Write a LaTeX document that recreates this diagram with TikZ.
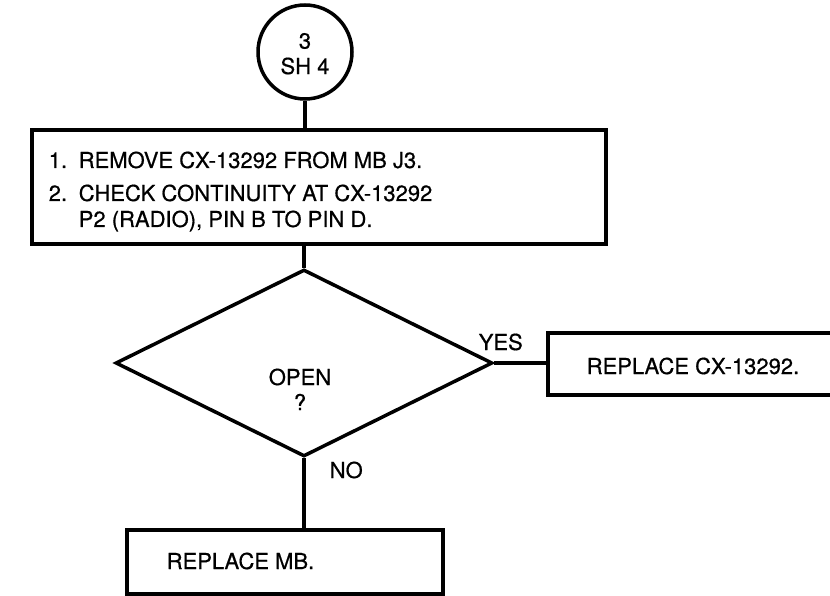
\documentclass[tikz,border=0pt]{standalone}
\usepackage{fontspec}
\setmainfont{TeX Gyre Heros}[FakeBold=0.6]
\usetikzlibrary{shapes.geometric}
\begin{document}
\begin{tikzpicture}[x=1pt,y=-1pt,line width=3.5pt,
  box/.style={draw,rectangle,inner sep=0pt},
  txt/.style={font=\fontsize{22}{26}\selectfont,inner sep=0pt}]
\useasboundingbox (0,0) rectangle (830,596);
% connector circle
\node[draw,circle,inner sep=0pt,minimum size=94pt] (c) at (305,52) {};
\node[txt] (c1) at (305,41) {3};
\node[txt] (c2) at (305,66) {SH 4};
% first box
\node[box,minimum width=574pt,minimum height=114pt] (b1) at (319,187) {};
\node[txt,anchor=base west] (n1) at (47,168) {1.};
\node[txt,anchor=base west] (l1) at (77,168) {REMOVE CX-13292 FROM MB J3.};
\node[txt,anchor=base west] (n2) at (47,201) {2.};
\node[txt,anchor=base west] (l2) at (77,201) {CHECK CONTINUITY AT CX-13292};
\node[txt,anchor=base west] (l3) at (77,227) {P2 (RADIO), PIN B TO PIN D.};
% decision
\node[draw,diamond,inner sep=0pt,minimum width=377pt,minimum height=187pt] (d) at (304,363) {};
\node[txt] (q1) at (300,377) {OPEN};
\node[txt] (q2) at (300,402) {?};
\node[txt,anchor=west] (yes) at (477,342) {YES};
\node[txt,anchor=west] (no) at (328,470) {NO};
% result boxes
\node[box,minimum width=286pt,minimum height=62pt] (b2) at (691,364) {};
\node[txt,anchor=west] (t2) at (585,366) {REPLACE CX-13292.};
\node[box,minimum width=316pt,minimum height=64pt] (b3) at (285,562) {};
\node[txt,anchor=west] (t3) at (165,561) {REPLACE MB.};
% connectors
\draw (c.south) -- (c.south |- b1.north);
\draw (d.north |- b1.south) -- (d.north);
\draw (d.east) -- (d.east -| b2.west);
\draw (d.south) -- (d.south |- b3.north);
\end{tikzpicture}
\end{document}
